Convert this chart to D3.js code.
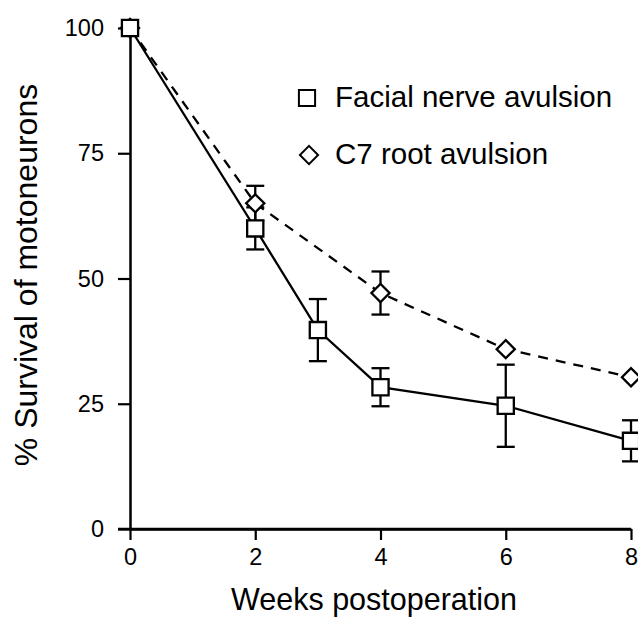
<!DOCTYPE html>
<html>
<head>
<meta charset="utf-8">
<script src="https://cdn.jsdelivr.net/npm/d3@7"></script>
<style>
  html, body { margin: 0; padding: 0; background: #fff; }
  svg { display: block; }
  text { font-family: "Liberation Sans", Arial, Helvetica, sans-serif; fill: #000; }
</style>
</head>
<body>
<svg id="chart" width="638" height="617"></svg>
<script>
// ---- Data ----
const weeksFacial = [0, 2, 3, 4, 6, 8];
const facialValues = [100, 60, 39.7, 28.3, 24.6, 17.6];
const facialErrors = [0, 4.2, 6.2, 3.8, 8.2, 4.1];

const weeksC7 = [0, 2, 4, 6, 8];
const c7Values = [100, 65, 47.1, 35.9, 30.3];
const c7Errors = [0, 3.5, 4.3, 0, 0];

const xTicks = [0, 2, 4, 6, 8];
const yTicks = [0, 25, 50, 75, 100];
const seriesNames = ["Facial nerve avulsion", "C7 root avulsion"];
const xTitle = "Weeks postoperation";
const yTitle = "% Survival of motoneurons";

// ---- Layout ----
const svg = d3.select("#chart");
const x = d3.scaleLinear().domain([0, 8]).range([130, 631]);
const y = d3.scaleLinear().domain([0, 100]).range([529, 28]);

// Axes
const yAxis = d3.axisLeft(y).tickValues(yTicks).tickSize(12).tickPadding(14).tickSizeOuter(0);
const xAxis = d3.axisBottom(x).tickValues(xTicks).tickSize(11).tickPadding(8).tickSizeOuter(0);

const gy = svg.append("g").attr("transform", `translate(${x(0)},0)`).call(yAxis);
const gx = svg.append("g").attr("transform", `translate(0,${y(0)})`).call(xAxis);

[gx, gy].forEach(g => {
  g.select(".domain").attr("stroke", "#000").attr("stroke-width", 2.5);
  g.selectAll(".tick line").attr("stroke", "#000").attr("stroke-width", 2.2);
  g.selectAll(".tick text").attr("font-size", 23.5).attr("fill", "#000")
    .style("font-family", "'Liberation Sans', Arial, sans-serif");
});
// extend x axis to meet y tick at 0
svg.append("line")
  .attr("x1", x(0) - 12).attr("x2", x(8))
  .attr("y1", y(0)).attr("y2", y(0))
  .attr("stroke", "#000").attr("stroke-width", 2.5);

// Axis titles
svg.append("text")
  .attr("x", 374).attr("y", 610)
  .attr("text-anchor", "middle")
  .attr("font-size", 30.5)
  .text(xTitle);

svg.append("text")
  .attr("transform", "translate(37,275) rotate(-90)")
  .attr("text-anchor", "middle")
  .attr("font-size", 32)
  .text(yTitle);

// ---- Lines ----
const facialData = weeksFacial.map((w, i) => ({ w, v: facialValues[i], e: facialErrors[i] }));
const c7Data = weeksC7.map((w, i) => ({ w, v: c7Values[i], e: c7Errors[i] }));

const line = d3.line().x(d => x(d.w)).y(d => y(d.v));

svg.append("path").datum(c7Data)
  .attr("d", line).attr("fill", "none")
  .attr("stroke", "#000").attr("stroke-width", 2.3)
  .attr("stroke-dasharray", "10,8");

svg.append("path").datum(facialData)
  .attr("d", line).attr("fill", "none")
  .attr("stroke", "#000").attr("stroke-width", 2.3);

// ---- Error bars ----
function errorBars(data) {
  const g = svg.append("g").attr("stroke", "#000").attr("stroke-width", 2.3);
  const d = data.filter(p => p.e > 0);
  g.selectAll("line.v").data(d).enter().append("line")
    .attr("x1", p => x(p.w)).attr("x2", p => x(p.w))
    .attr("y1", p => y(p.v + p.e)).attr("y2", p => y(p.v - p.e));
  g.selectAll("line.t").data(d).enter().append("line")
    .attr("x1", p => x(p.w) - 9).attr("x2", p => x(p.w) + 9)
    .attr("y1", p => y(p.v + p.e)).attr("y2", p => y(p.v + p.e));
  g.selectAll("line.b").data(d).enter().append("line")
    .attr("x1", p => x(p.w) - 9).attr("x2", p => x(p.w) + 9)
    .attr("y1", p => y(p.v - p.e)).attr("y2", p => y(p.v - p.e));
}
errorBars(c7Data);
errorBars(facialData);

// ---- Markers ----
const squareSym = d3.symbol().type(d3.symbolSquare).size(262);
const diamondSym = d3.symbol().type(d3.symbolSquare).size(165);

svg.append("g").selectAll("path").data(c7Data).enter().append("path")
  .attr("d", diamondSym)
  .attr("transform", d => `translate(${x(d.w)},${y(d.v)}) rotate(45)`)
  .attr("fill", "#fff").attr("stroke", "#000").attr("stroke-width", 2.3);

svg.append("g").selectAll("path").data(facialData).enter().append("path")
  .attr("d", squareSym)
  .attr("transform", d => `translate(${x(d.w)},${y(d.v)})`)
  .attr("fill", "#fff").attr("stroke", "#000").attr("stroke-width", 2.3);

// ---- Legend ----
const legend = svg.append("g");
legend.append("path").attr("d", squareSym)
  .attr("transform", "translate(307,98)")
  .attr("fill", "#fff").attr("stroke", "#000").attr("stroke-width", 2);
legend.append("text").attr("x", 335).attr("y", 107)
  .attr("font-size", 29.5).text(seriesNames[0]);

legend.append("path").attr("d", diamondSym)
  .attr("transform", "translate(309,155) rotate(45)")
  .attr("fill", "#fff").attr("stroke", "#000").attr("stroke-width", 2);
legend.append("text").attr("x", 335).attr("y", 164)
  .attr("font-size", 29.5).text(seriesNames[1]);
</script>
</body>
</html>
